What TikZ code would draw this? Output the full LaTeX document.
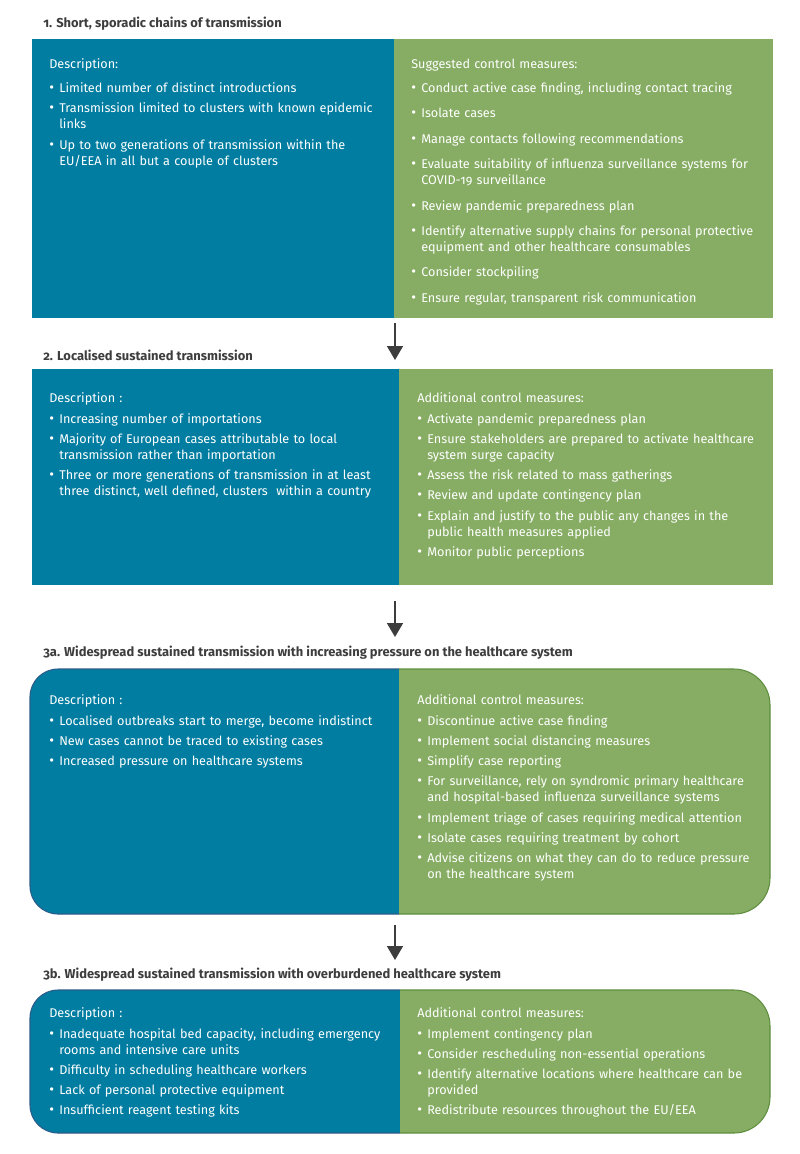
\documentclass[tikz,border=0pt]{standalone}
\usepackage{fontspec}
\setmainfont{Fira Sans}[Numbers=OldStyle]
\usetikzlibrary{arrows.meta}

\definecolor{ecdcblue}{HTML}{007DA1}
\definecolor{ecdcgreen}{HTML}{86AD63}
\definecolor{bluerim}{HTML}{2B5C8A}
\definecolor{greenrim}{HTML}{5E8F3E}
\definecolor{titlegray}{HTML}{3D3D3D}

\newlength\bulw
\setlength\bulw{7.5pt}
% one bullet item, second line hangs under the text
\newcommand\bul[1]{\par\hangindent=\bulw\hangafter=1\noindent\makebox[\bulw][l]{{\fontsize{11}{12}\selectfont\textbullet}}#1\par}
\newcommand\colgap[1]{\setlength\parskip{#1}\setlength\parindent{0pt}}

\begin{document}
\begin{tikzpicture}[x=0.75pt,y=0.75pt,
    stagetitle/.style={anchor=base west, inner sep=0pt, text=titlegray, font=\bfseries\fontsize{9.7}{12}\selectfont},
    coltext/.style={anchor=base west, inner sep=0pt, text=white, font=\fontsize{9.5}{12}\selectfont, text width=#1},
    coltext/.default=262pt,
    flowarrow/.style={-{Triangle[width=12pt,length=10.5pt]}, line width=1.3pt, draw=titlegray}]
\useasboundingbox (0,0) rectangle (800,-1154);

% stage 1
\node[stagetitle] (title1) at (43,-27) {1. Short, sporadic chains of transmission};
\fill[ecdcblue] (32,-39) rectangle (394,-318);
\fill[ecdcgreen] (394,-39) rectangle (773,-318);
\node[coltext] (desc1) at (49,-68) {\colgap{3.4pt}Description:\par\vspace{2.6pt}
    \bul{Limited number of distinct introductions}
    \bul{Transmission limited to clusters with known epidemic\newline links}
    \bul{Up to two generations of transmission within the\newline EU/EEA in all but a couple of clusters}};
\node[coltext=275pt] (ctrl1) at (411,-68) {\colgap{7.1pt}Suggested control measures:\par\vspace{-1pt}
    \bul{Conduct active case finding, including contact tracing}
    \bul{Isolate cases}
    \bul{Manage contacts following recommendations}
    \bul{Evaluate suitability of influenza surveillance systems for\newline COVID-19 surveillance}
    \bul{Review pandemic preparedness plan}
    \bul{Identify alternative supply chains for personal protective\newline equipment and other healthcare consumables}
    \bul{Consider stockpiling}
    \bul{Ensure regular, transparent risk communication}};

\coordinate (arr1top) at (395,-323);
\coordinate (arr1tip) at (395,-360);
\draw[flowarrow] (arr1top) -- (arr1tip);

% stage 2
\node[stagetitle] (title2) at (43,-360) {2. Localised sustained transmission};
\fill[ecdcblue] (32,-369) rectangle (399,-585);
\fill[ecdcgreen] (399,-369) rectangle (773,-585);
\node[coltext] (desc2) at (49,-402) {\colgap{3.2pt}Description :\par\vspace{0.6pt}
    \bul{Increasing number of importations}
    \bul{Majority of European cases attributable to local\newline transmission rather than importation}
    \bul{Three or more generations of transmission in at least\newline three distinct, well defined, clusters\ \ within a country}};
\node[coltext] (ctrl2) at (417,-402) {\colgap{3.2pt}Additional control measures:\par\vspace{0.6pt}
    \bul{Activate pandemic preparedness plan}
    \bul{Ensure stakeholders are prepared to activate healthcare\newline system surge capacity}
    \bul{Assess the risk related to mass gatherings}
    \bul{Review and update contingency plan}
    \bul{Explain and justify to the public any changes in the\newline public health measures applied}
    \bul{Monitor public perceptions}};

\coordinate (arr2top) at (395,-601);
\coordinate (arr2tip) at (395,-637);
\draw[flowarrow] (arr2top) -- (arr2tip);

% stage 3a
\node[stagetitle] (title3a) at (43,-656) {3a. Widespread sustained transmission with increasing pressure on the healthcare system};
\fill[ecdcblue] (399,-669) -- (58,-669) arc[start angle=90,end angle=180,radius=21pt]
    -- (30,-886) arc[start angle=180,end angle=270,radius=21pt] -- (399,-914) -- cycle;
\draw[bluerim, line width=0.8pt] (399,-669) -- (58,-669) arc[start angle=90,end angle=180,radius=21pt]
    -- (30,-886) arc[start angle=180,end angle=270,radius=21pt] -- (399,-914);
\fill[ecdcgreen] (399,-669) -- (734,-669) arc[start angle=90,end angle=0,radius=27pt]
    -- (770,-878) arc[start angle=0,end angle=-90,radius=27pt] -- (399,-914) -- cycle;
\draw[greenrim, line width=0.8pt] (399,-669) -- (734,-669) arc[start angle=90,end angle=0,radius=27pt]
    -- (770,-878) arc[start angle=0,end angle=-90,radius=27pt] -- (399,-914);
\node[coltext] (desc3a) at (49,-704) {\colgap{3.2pt}Description :\par\vspace{0.6pt}
    \bul{Localised outbreaks start to merge, become indistinct}
    \bul{New cases cannot be traced to existing cases}
    \bul{Increased pressure on healthcare systems}};
\node[coltext] (ctrl3a) at (417,-704) {\colgap{3.2pt}Additional control measures:\par\vspace{0.6pt}
    \bul{Discontinue active case finding}
    \bul{Implement social distancing measures}
    \bul{Simplify case reporting}
    \bul{For surveillance, rely on syndromic primary healthcare\newline and hospital-based influenza surveillance systems}
    \bul{Implement triage of cases requiring medical attention}
    \bul{Isolate cases requiring treatment by cohort}
    \bul{Advise citizens on what they can do to reduce pressure\newline on the healthcare system}};

\coordinate (arr3top) at (395,-925);
\coordinate (arr3tip) at (395,-960);
\draw[flowarrow] (arr3top) -- (arr3tip);

% stage 3b
\node[stagetitle] (title3b) at (43,-978) {3b. Widespread sustained transmission with overburdened healthcare system};
\fill[ecdcblue] (400,-990) -- (58,-990) arc[start angle=90,end angle=180,radius=21pt]
    -- (30,-1105) arc[start angle=180,end angle=270,radius=21pt] -- (400,-1133) -- cycle;
\draw[bluerim, line width=0.8pt] (400,-990) -- (58,-990) arc[start angle=90,end angle=180,radius=21pt]
    -- (30,-1105) arc[start angle=180,end angle=270,radius=21pt] -- (400,-1133);
\fill[ecdcgreen] (400,-990) -- (734,-990) arc[start angle=90,end angle=0,radius=27pt]
    -- (770,-1097) arc[start angle=0,end angle=-90,radius=27pt] -- (400,-1133) -- cycle;
\draw[greenrim, line width=0.8pt] (400,-990) -- (734,-990) arc[start angle=90,end angle=0,radius=27pt]
    -- (770,-1097) arc[start angle=0,end angle=-90,radius=27pt] -- (400,-1133);
\node[coltext] (desc3b) at (49,-1017) {\colgap{3.2pt}Description :\par\vspace{0.6pt}
    \bul{Inadequate hospital bed capacity, including emergency\newline rooms and intensive care units}
    \bul{Difficulty in scheduling healthcare workers}
    \bul{Lack of personal protective equipment}
    \bul{Insufficient reagent testing kits}};
\node[coltext] (ctrl3b) at (417,-1017) {\colgap{3.2pt}Additional control measures:\par\vspace{0.6pt}
    \bul{Implement contingency plan}
    \bul{Consider rescheduling non-essential operations}
    \bul{Identify alternative locations where healthcare can be\newline provided}
    \bul{Redistribute resources throughout the EU/EEA}};
\end{tikzpicture}
\end{document}
